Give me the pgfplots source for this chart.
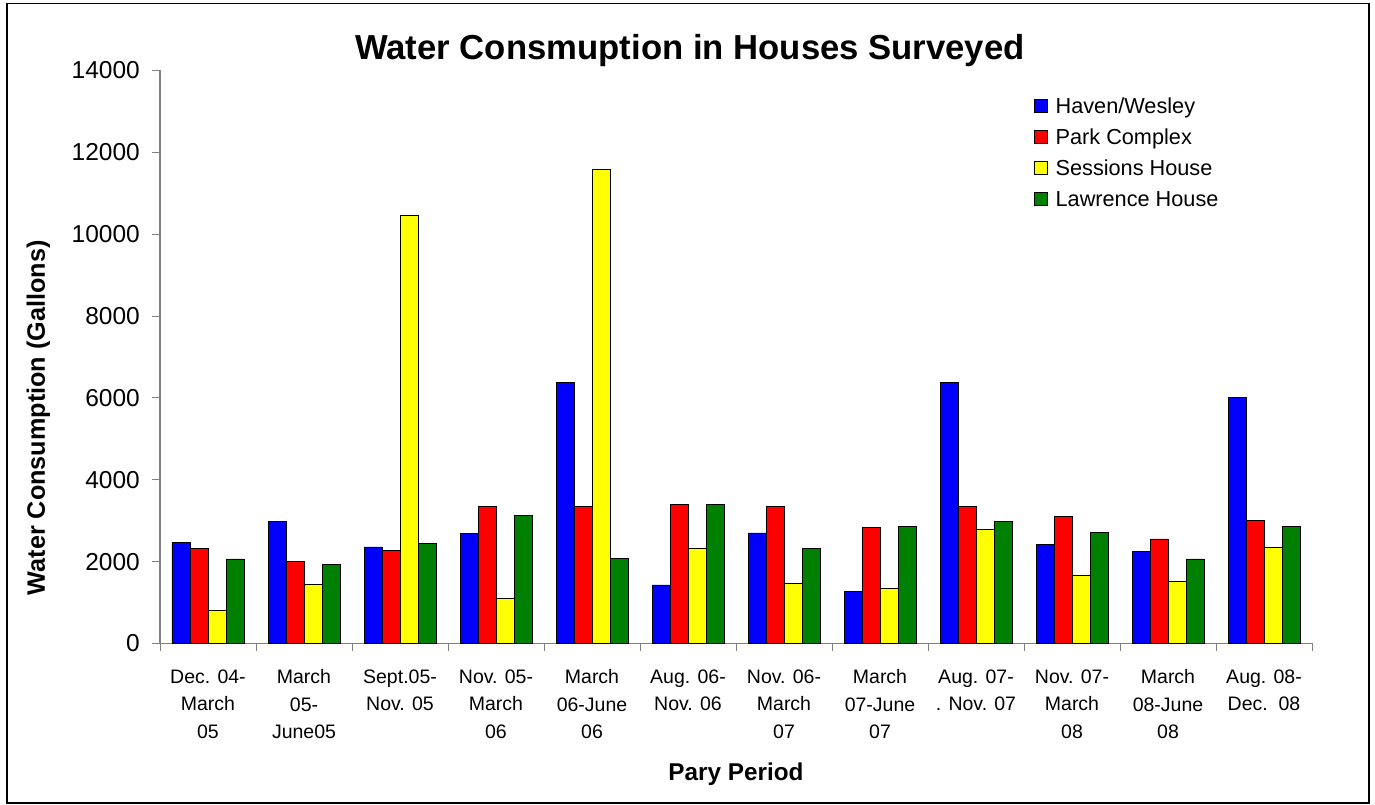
\documentclass[border=0pt]{standalone}
\usepackage{fontspec}
\setmainfont{Liberation Sans}
\usepackage{pgfplots}
\usepackage{pgfplotstable}
\pgfplotsset{compat=1.18}

\definecolor{hwblue}{RGB}{0,0,255}
\definecolor{pcred}{RGB}{255,0,0}
\definecolor{shyellow}{RGB}{255,255,0}
\definecolor{lhgreen}{RGB}{0,128,0}
\definecolor{axisgray}{RGB}{128,128,128}

% gallons per billing period
\pgfplotstableread{
idx haven park sessions lawrence
0   2470  2330  820    2065
1   2985  2015  1445   1935
2   2360  2270  10460  2440
3   2690  3350  1105   3120
4   6380  3350  11575  2070
5   1430  3400  2330   3400
6   2700  3350  1470   2330
7   1275  2840  1340   2865
8   6380  3350  2780   2975
9   2415  3115  1675   2715
10  2245  2555  1525   2065
11  6020  3010  2355   2870
}\water

\begin{document}
\begin{tikzpicture}
\useasboundingbox (0,0) rectangle (1375pt,805pt);
\draw[line width=1.5pt] (7pt,2pt) rectangle (1369pt,801.5pt);
\begin{axis}[
  at={(160pt,161.5pt)}, anchor=south west,
  scale only axis, width=1152pt, height=573pt,
  ybar=0pt, bar width=18pt,
  xmin=-0.5, xmax=11.5, ymin=0, ymax=14000,
  axis x line*=bottom, axis y line*=left,
  axis line style={-, draw=axisgray, line width=1.2pt},
  tick align=outside,
  xtick={0,...,11},
  minor xtick={-0.5,0.5,...,11.5},
  major x tick style={draw=none},
  minor x tick style={draw=axisgray, line width=1pt},
  minor tick length=8pt,
  major tick length=8pt,
  ytick={0,2000,...,14000},
  y tick style={draw=axisgray, line width=1pt},
  scaled y ticks=false,
  /pgf/number format/assume math mode=true,
  yticklabel={\pgfmathprintnumber[fixed,1000 sep={}]{\tick}},
  yticklabel style={font=\fontsize{24.5}{28}\selectfont, inner sep=0pt, xshift=-12pt},
  xticklabels={{Dec. 04-\\March\\05},{March\\05-\\June05},{Sept.05-\\Nov. 05},
    {Nov. 05-\\March\\06},{March\\06-June\\06},{Aug. 06-\\Nov. 06},
    {Nov. 06-\\March\\07},{March\\07-June\\07},{Aug. 07-\\. Nov. 07},
    {Nov. 07-\\March\\08},{March\\08-June\\08},{Aug. 08-\\Dec.~~08}},
  xticklabel style={font=\fontsize{19.5}{27.5}\selectfont, align=center,
    anchor=north, inner sep=0pt, yshift=-18pt},
  title={Water Consmuption in Houses Surveyed},
  title style={at={(axis description cs:0.46,1.008)}, anchor=base,
    font=\fontsize{34.7}{40}\selectfont\bfseries},
  xlabel={Pary Period},
  xlabel style={at={(axis description cs:0.5,-0.228)}, anchor=center,
    font=\fontsize{24.3}{28}\selectfont\bfseries},
  ylabel={Water Consumption (Gallons)},
  ylabel style={at={(axis description cs:-0.1055,0.394)}, anchor=center,
    font=\fontsize{25.2}{28}\selectfont\bfseries},
  legend style={at={(axis description cs:0.7587,0.953)}, anchor=north west,
    draw=none, fill=none, inner sep=0pt, row sep=10pt,
    font=\fontsize{21.7}{26}\selectfont,
    nodes={inner sep=0pt, text height=16pt, text depth=5pt}},
  legend cell align=left,
  legend image code/.code={
    \path[draw=none, fill=none] (0pt,0pt) -- (21pt,0pt);
    \draw[#1, draw=black, line width=0.8pt] (0pt,-4.5pt) rectangle (13pt,8.5pt);
  },
  every axis plot/.append style={draw=black, line width=0.8pt},
]
\addplot[fill=hwblue] table[x=idx, y=haven] {\water};
\addplot[fill=pcred] table[x=idx, y=park] {\water};
\addplot[fill=shyellow] table[x=idx, y=sessions] {\water};
\addplot[fill=lhgreen] table[x=idx, y=lawrence] {\water};
\legend{Haven/Wesley, Park Complex, Sessions House, Lawrence House}
\end{axis}
\end{tikzpicture}
\end{document}
